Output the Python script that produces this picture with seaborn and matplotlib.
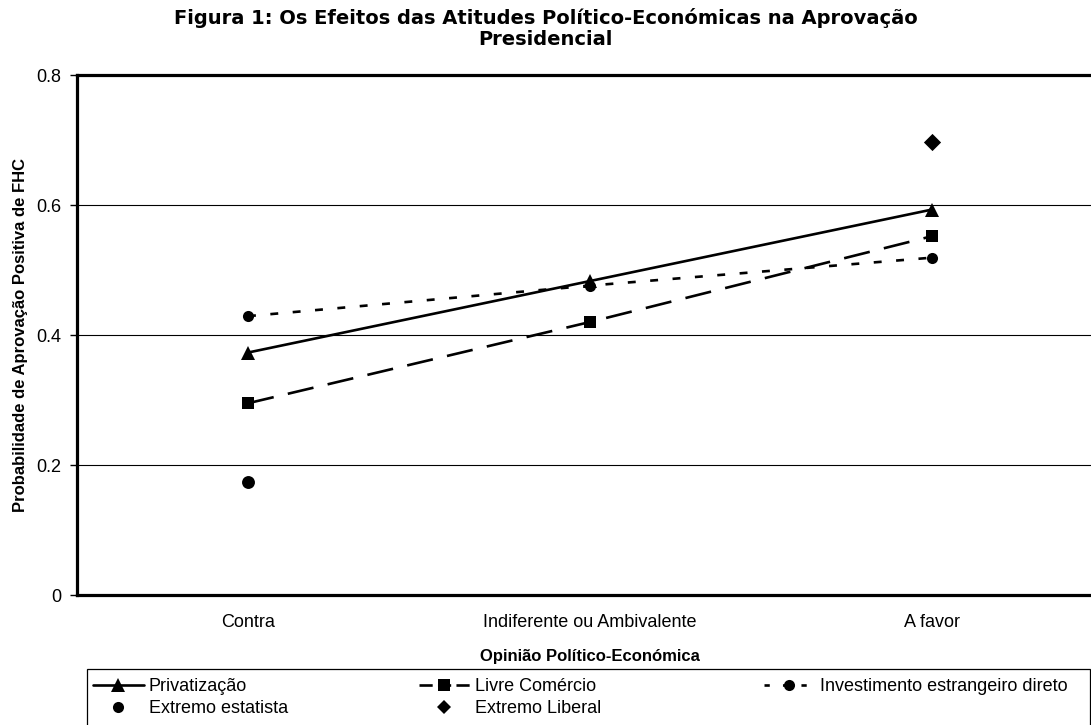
import numpy as np
import pandas as pd
import matplotlib
matplotlib.use('Agg')
import matplotlib.pyplot as plt
from matplotlib.lines import Line2D
from matplotlib.patches import Rectangle
import seaborn as sns

# data
categorias = ['Contra', 'Indiferente ou Ambivalente', 'A favor']
privatizacao = [0.373, 0.483, 0.593]
livre_comercio = [0.295, 0.420, 0.552]
investimento = [0.429, 0.476, 0.519]
extremo_estatista_cat = ['Contra']
extremo_estatista = [0.174]
extremo_liberal_cat = ['A favor']
extremo_liberal = [0.697]
yticks = [0, 0.2, 0.4, 0.6, 0.8]
yticklabels = ['0', '0.2', '0.4', '0.6', '0.8']

sns.set_style('white')
plt.rcParams['font.family'] = ['Liberation Sans', 'DejaVu Sans']
plt.rcParams['text.color'] = 'black'
plt.rcParams['axes.labelcolor'] = 'black'
plt.rcParams['xtick.color'] = 'black'
plt.rcParams['ytick.color'] = 'black'

lw = 1.9
ms = 8
small_text = 13
label_text = 12

fig = plt.figure(figsize=(10.91, 7.25), dpi=100)
ax = fig.add_axes([77/1091, 1 - 595/725, (1103 - 77)/1091, (595 - 75)/725])

df_lines = pd.DataFrame({'cat': categorias * 3,
                         'val': privatizacao + livre_comercio + investimento,
                         'serie': ['Privatização'] * 3 + ['Livre Comércio'] * 3
                                  + ['Investimento estrangeiro direto'] * 3})

sns.lineplot(data=df_lines[df_lines.serie == 'Privatização'], x='cat', y='val',
             color='black', lw=lw, marker='^', markersize=ms + 1.5, markeredgewidth=0,
             ax=ax, legend=False, sort=False)
sns.lineplot(data=df_lines[df_lines.serie == 'Livre Comércio'], x='cat', y='val',
             color='black', lw=lw, linestyle=(0, (10, 5.5)), marker='s', markersize=ms,
             markeredgewidth=0, ax=ax, legend=False, sort=False)
sns.lineplot(data=df_lines[df_lines.serie == 'Investimento estrangeiro direto'], x='cat', y='val',
             color='black', lw=lw, linestyle=(0, (3, 5.5)), marker='o', markersize=ms,
             markeredgewidth=0, ax=ax, legend=False, sort=False)
sns.scatterplot(x=extremo_estatista_cat, y=extremo_estatista, color='black', marker='o',
                s=ms**2 * 1.35, linewidth=0, ax=ax, legend=False)
sns.scatterplot(x=extremo_liberal_cat, y=extremo_liberal, color='black', marker='D',
                s=ms**2 * 1.2, linewidth=0, ax=ax, legend=False)

ax.set_xlim(-0.5, 2.5)
ax.set_ylim(0, 0.8)
ax.set_yticks(yticks)
ax.set_yticklabels(yticklabels)
ax.set_xticks([0, 1, 2])
ax.set_xticklabels(categorias)
ax.set_xticks([-0.5, 0.5, 1.5], minor=True)
ax.tick_params(axis='x', which='major', length=0, pad=14, labelsize=small_text)
ax.tick_params(axis='x', which='minor', length=5, width=1, direction='out', color='black')
ax.tick_params(axis='y', length=5, width=1, direction='out', color='black', pad=6,
               labelsize=small_text, left=True)
ax.yaxis.grid(True, color='black', lw=0.8)
ax.xaxis.grid(False)
ax.set_axisbelow(True)
for side in ['left', 'bottom', 'top']:
    ax.spines[side].set_visible(True)
    ax.spines[side].set_linewidth(2.3)
    ax.spines[side].set_color('black')
ax.spines['right'].set_visible(False)

ax.set_xlabel('Opinião Político-Económica', fontsize=label_text, fontweight='bold')
ax.set_ylabel('Probabilidade de Aprovação Positiva de FHC', fontsize=label_text,
              fontweight='bold')
ax.xaxis.set_label_coords((590 - 77)/(1103 - 77), -(649 - 595)/(595 - 75))
ax.yaxis.set_label_coords(-(77 - 28)/(1103 - 77), 0.5)
fig.suptitle('Figura 1: Os Efeitos das Atitudes Político-Económicas na Aprovação\nPresidencial',
             x=0.5, y=1 - 8/725, fontsize=14, fontweight='bold', linespacing=1.15,
             family=['DejaVu Sans'])

# legend box
fig.patches.append(Rectangle((87/1091, -0.05), (1090 - 87)/1091, 0.05 + 1 - 669/725,
                             transform=fig.transFigure, fill=False, edgecolor='black', lw=0.9))

h_priv = Line2D([0], [0], color='black', lw=lw, marker='^', markersize=ms + 1.5, markeredgewidth=0)
h_livre = Line2D([0], [0], color='black', lw=lw, linestyle=(0, (5, 2)), marker='s',
                 markersize=ms, markeredgewidth=0)
h_inv = Line2D([0], [0], color='black', lw=lw, linestyle=(0, (2, 5)), marker='o',
               markersize=ms, markeredgewidth=0)
h_est = Line2D([0], [0], color='black', lw=0, marker='o', markersize=ms, markeredgewidth=0)
h_lib = Line2D([0], [0], color='black', lw=0, marker='D', markersize=ms - 1, markeredgewidth=0)

leg_kw = dict(frameon=False, fontsize=small_text, handlelength=2.8, handletextpad=0.3,
              labelspacing=0.3, borderpad=0, borderaxespad=0, loc='upper left')
top = 1 - 678/725
l1 = fig.legend([h_priv, h_est], ['Privatização', 'Extremo estatista'],
                bbox_to_anchor=(93/1091, top), **leg_kw)
l2 = fig.legend([h_livre, h_lib], ['Livre Comércio', 'Extremo Liberal'],
                bbox_to_anchor=(419/1091, top), **leg_kw)
l3 = fig.legend([h_inv], ['Investimento estrangeiro direto'],
                bbox_to_anchor=(764/1091, top), **leg_kw)

fig.savefig('out.png', dpi=100)
